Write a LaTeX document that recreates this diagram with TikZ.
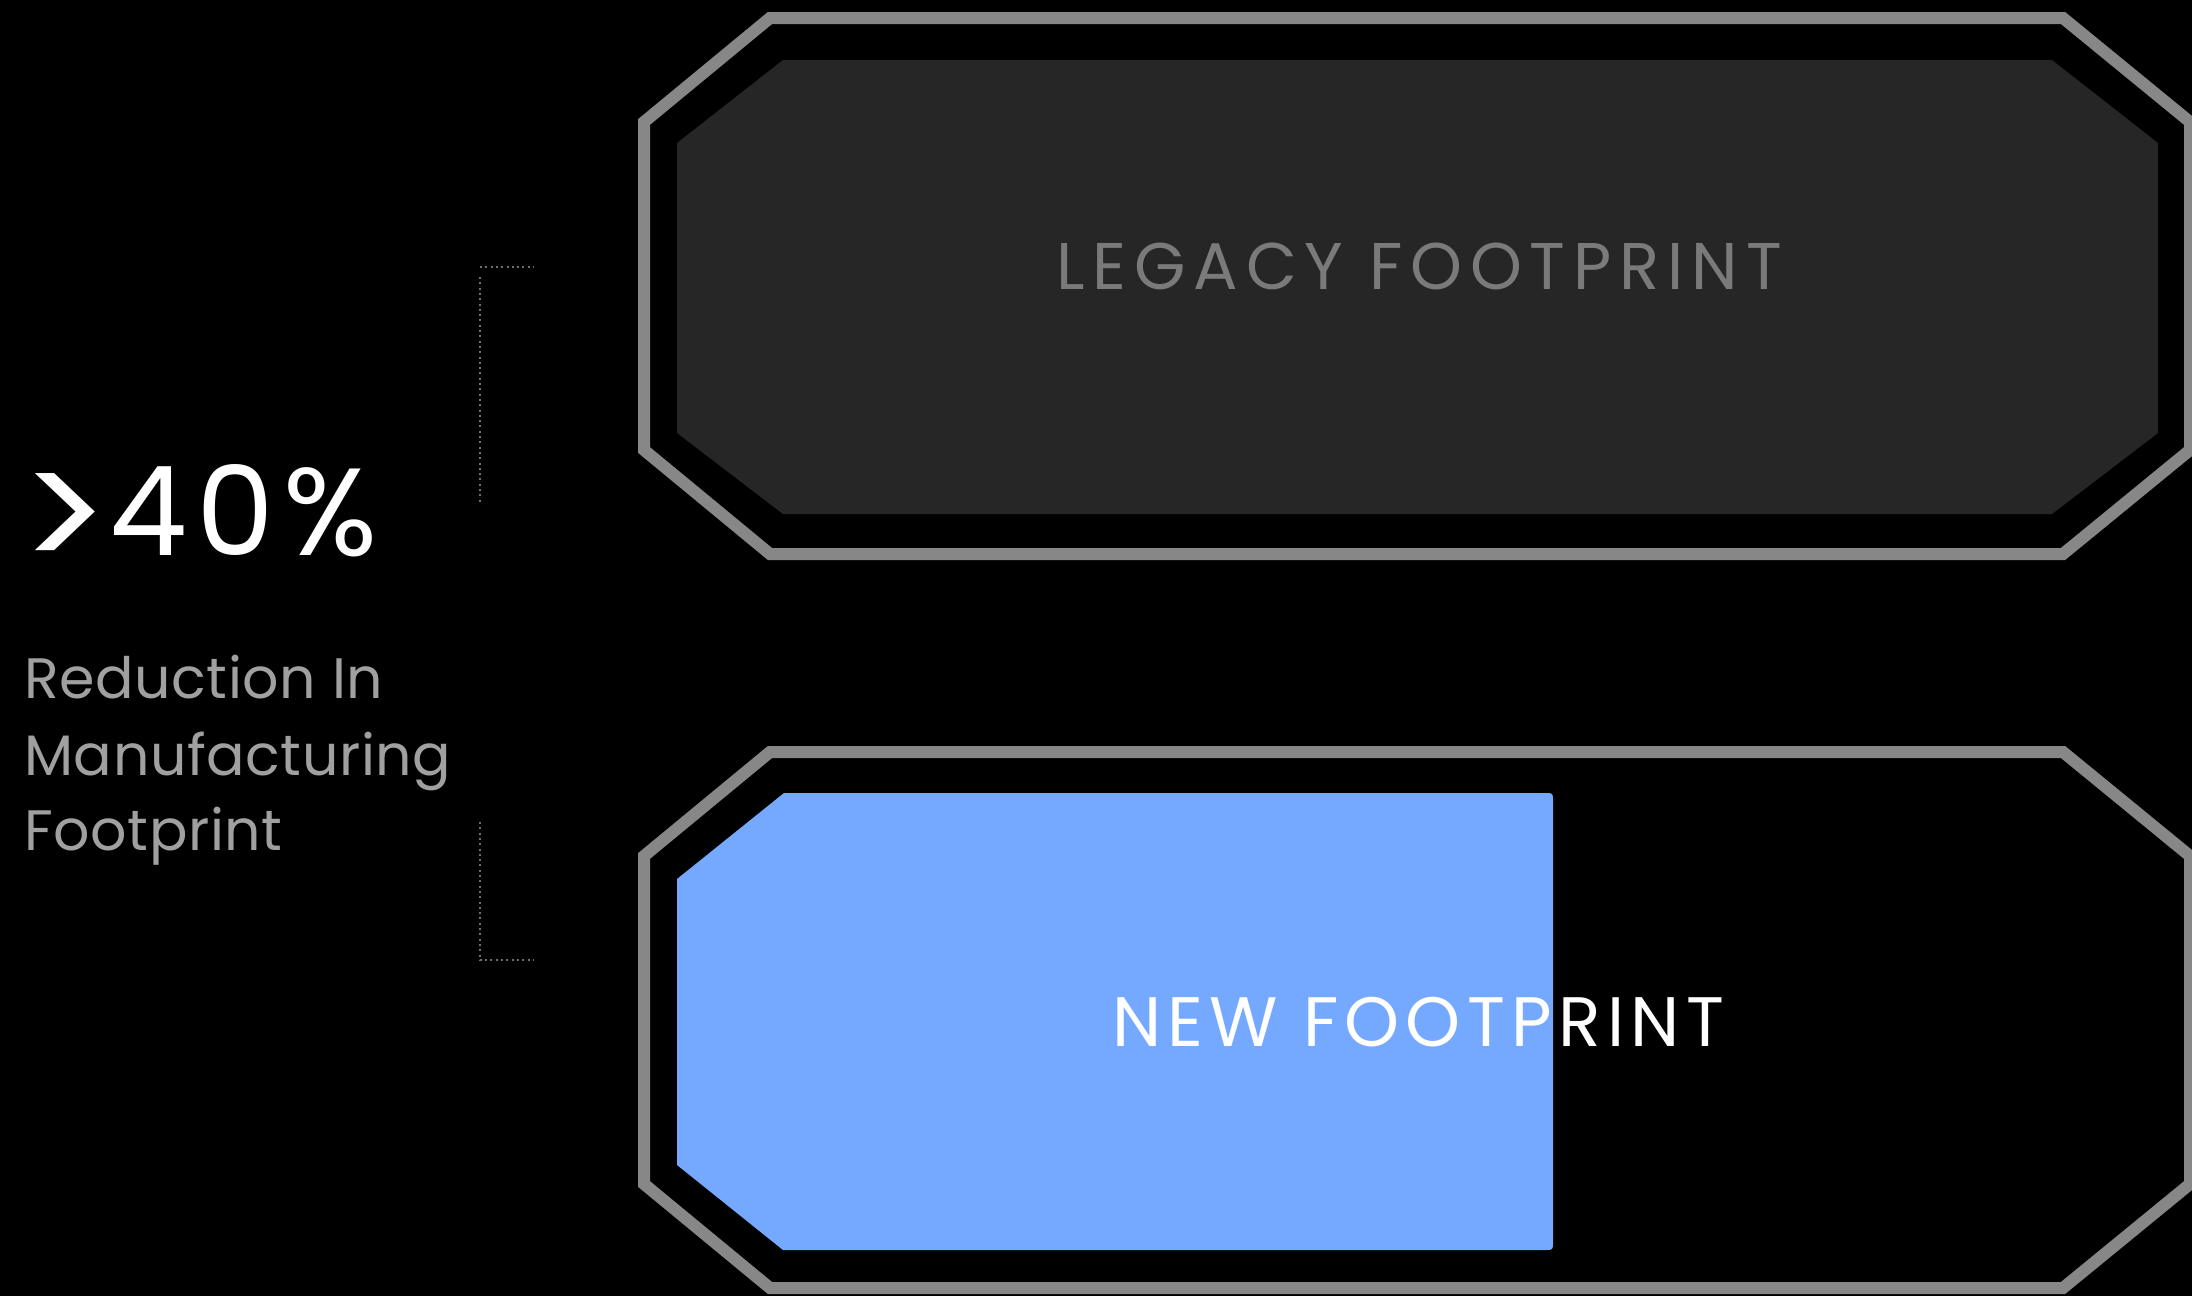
\documentclass[tikz,border=0pt]{standalone}
\usepackage{fontspec}
\setmainfont{Poppins}
\newfontfamily\capsfont[LetterSpace=12]{Poppins}
\newfontfamily\newcapsfont[LetterSpace=9]{Poppins}
\newfontfamily\figfont[LetterSpace=7]{Poppins}
\newfontfamily\bodyfont[LetterSpace=1]{Poppins}
\definecolor{framegray}{HTML}{878787}
\definecolor{panelgray}{HTML}{262626}
\definecolor{newblue}{HTML}{75A9FF}
\definecolor{legacytext}{HTML}{7A7A7A}
\definecolor{subtext}{HTML}{A0A0A0}
\definecolor{dotgray}{HTML}{707070}
\tikzset{
  frameline/.style={draw=framegray, line width=6pt, line join=miter},
  dotline/.style={draw=dotgray, line width=1pt, dash pattern=on 1pt off 1.65pt},
  bodytext/.style={anchor=base west, inner sep=0pt, text=subtext,
    font=\bodyfont\fontsize{28.5}{28.5}\selectfont},
}
\begin{document}
\begin{tikzpicture}[x=0.5pt,y=-0.5pt]
  \fill[black] (0,0) rectangle (2192,1296);
  \useasboundingbox (0,0) rectangle (2192,1296);

  % legacy footprint: outer frame and dark panel
  \draw[frameline] (644,122) -- (770,18) -- (2063,18) -- (2190,122) -- (2190,450)
    -- (2063,554) -- (770,554) -- (644,450) -- cycle;
  \fill[panelgray] (677,143) -- (783,60) -- (2052,60) -- (2158,143) -- (2158,433)
    -- (2052,514) -- (783,514) -- (677,433) -- cycle;

  % new footprint: outer frame and blue panel
  \draw[frameline] (644,856) -- (770,752) -- (2063,752) -- (2190,856) -- (2190,1184)
    -- (2063,1288) -- (770,1288) -- (644,1184) -- cycle;
  \fill[newblue] (677,1165) -- (677,879) -- (784,793) -- (1545,793)
    .. controls (1553,793) .. (1553,801) -- (1553,1242)
    .. controls (1553,1250) .. (1545,1250) -- (783,1250) -- cycle;

  \node[anchor=base, inner sep=0pt, text=legacytext,
    font=\capsfont\fontsize{33}{33}\selectfont] (legacy) at (1419,289) {LEGACY FOOTPRINT};
  \node[anchor=base, inner sep=0pt, text=white,
    font=\newcapsfont\fontsize{35}{35}\selectfont] (newfp) at (1418,1046) {NEW FOOTPRINT};

  % headline figure and caption
  \node[anchor=base west, inner sep=0pt, text=white,
    font=\figfont\fontsize{62}{62}\selectfont] (pct) at (19,555)
    {{\fontsize{84}{84}\selectfont\raisebox{-9pt}{>}}40\%};
  \node[bodytext] (cap1) at (24,698) {Reduction In};
  \node[bodytext] (cap2) at (24,775) {Manufacturing};
  \node[bodytext] (cap3) at (24,850) {Footprint};

  % dotted brackets
  \coordinate (bt1) at (534,267);
  \coordinate (bt2) at (480,267);
  \coordinate (bt3) at (480,277);
  \coordinate (bt4) at (480,502);
  \coordinate (bb1) at (480,822);
  \coordinate (bb2) at (480,960);
  \coordinate (bb3) at (534,960);
  \draw[dotline] (bt2) -- (bt1);
  \draw[dotline] (bt3) -- (bt4);
  \draw[dotline] (bb1) -- (bb2) -- (bb3);
\end{tikzpicture}
\end{document}
